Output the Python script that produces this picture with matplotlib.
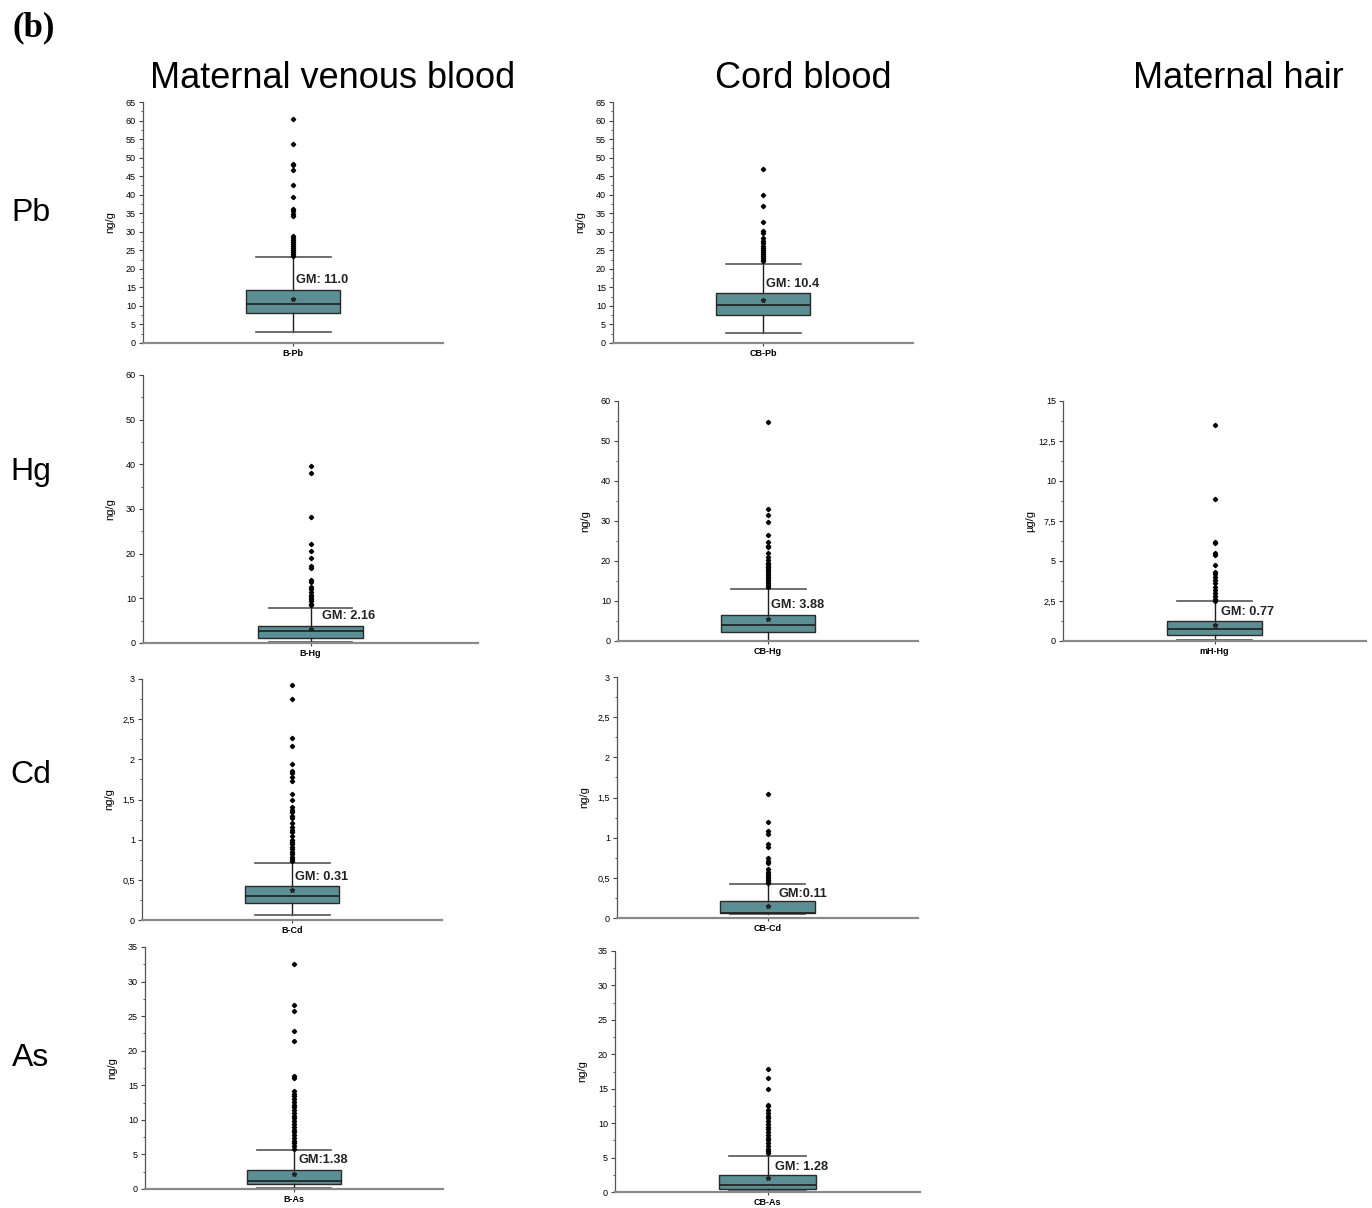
import matplotlib
matplotlib.use('Agg')
import matplotlib.pyplot as plt
from matplotlib.ticker import MultipleLocator, FuncFormatter

plt.rcParams['font.family'] = ['Liberation Sans', 'DejaVu Sans']

# panel names and box statistics
names = ['B-Pb', 'CB-Pb', 'B-Hg', 'CB-Hg', 'mH-Hg', 'B-Cd', 'CB-Cd', 'B-As', 'CB-As']
units = ['ng/g', 'ng/g', 'ng/g', 'ng/g', 'µg/g', 'ng/g', 'ng/g', 'ng/g', 'ng/g']
q1 = [8.0, 7.6, 1.2, 2.2, 0.37, 0.216, 0.058, 0.77, 0.48]
med = [10.6, 10.3, 2.6, 3.9, 0.73, 0.295, 0.060, 1.16, 1.07]
q3 = [14.2, 13.4, 3.9, 6.4, 1.23, 0.42, 0.21, 2.7, 2.5]
whislo = [3.0, 2.6, 0.2, 0.1, 0.05, 0.062, 0.05, 0.1, 0.15]
whishi = [23.3, 21.2, 7.9, 13.0, 2.48, 0.714, 0.427, 5.6, 5.3]
means = [12.0, 11.5, 3.1, 5.4, 1.0, 0.37, 0.15, 2.2, 2.1]
gm_labels = ['GM: 11.0', 'GM: 10.4', 'GM: 2.16', 'GM: 3.88', 'GM: 0.77',
             'GM: 0.31', 'GM:0.11', 'GM:1.38', 'GM: 1.28']

fliers_bpb = [60.5, 53.7, 48.4, 48.1, 46.7, 42.6, 39.3, 36.1, 35.6, 34.9, 34.3,
              28.9, 28.3, 27.8, 27.3, 26.8, 26.2, 25.5, 25.0, 24.5, 24.0, 23.5]
fliers_cbpb = [46.9, 39.9, 36.9, 32.7, 30.3, 29.8, 28.2, 27.6, 27.0, 26.2, 25.5,
               25.0, 24.5, 24.0, 23.5, 23.0, 22.5, 22.0]
fliers_bhg = [39.6, 38.1, 28.3, 22.1, 20.6, 19.0, 17.3, 16.8, 14.1, 13.6, 12.6,
              12.1, 11.4, 10.8, 10.3, 9.8, 9.3, 8.8, 8.4]
fliers_cbhg = [54.8, 32.9, 31.6, 29.8, 26.5, 24.8, 23.7, 23.4, 21.9, 21.0, 20.2,
               19.6, 19.2, 18.8, 18.4, 18.0, 17.5, 17.0, 16.5, 16.0, 15.5, 15.0,
               14.5, 14.0, 13.5]
fliers_mhhg = [13.5, 8.9, 6.2, 6.1, 5.47, 5.4, 4.74, 4.33, 4.2, 4.0, 3.8, 3.6,
               3.4, 3.2, 3.0, 2.8, 2.6, 2.52]
fliers_bcd = [2.93, 2.75, 2.27, 2.16, 1.94, 1.86, 1.83, 1.78, 1.73, 1.57, 1.50,
              1.41, 1.37, 1.34, 1.29, 1.27, 1.21, 1.16, 1.12, 1.09, 1.04, 1.00,
              0.97, 0.94, 0.91, 0.88, 0.85, 0.82, 0.79, 0.76, 0.74]
fliers_cbcd = [1.54, 1.20, 1.08, 1.05, 0.925, 0.89, 0.75, 0.71, 0.68, 0.61, 0.57,
               0.55, 0.52, 0.50, 0.47, 0.45, 0.44]
fliers_bas = [32.6, 26.6, 25.8, 22.8, 21.4, 16.4, 16.0, 14.2, 13.8, 13.4, 13.0,
              12.6, 12.2, 11.8, 11.4, 11.0, 10.6, 10.2, 9.8, 9.4, 9.0, 8.6, 8.2,
              7.8, 7.4, 7.0, 6.6, 6.2, 5.8]
fliers_cbas = [17.9, 16.5, 14.9, 12.7, 12.5, 11.9, 11.5, 11.1, 10.7, 10.3, 9.9,
               9.5, 9.1, 8.7, 8.3, 7.9, 7.5, 7.1, 6.7, 6.3, 5.9, 5.6]
fliers = [fliers_bpb, fliers_cbpb, fliers_bhg, fliers_cbhg, fliers_mhhg,
          fliers_bcd, fliers_cbcd, fliers_bas, fliers_cbas]

# axis ranges and tick steps
ytop = [65, 65, 60, 60, 15, 3, 3, 35, 35]
ystep = [5, 5, 10, 10, 2.5, 0.5, 0.5, 5, 5]

# layout: axes box in pixels (left, right, top, bottom), GM text height in data units
W, H = 1372, 1208
boxes_px = [(143, 443, 102, 343), (613, 913, 102, 343),
            (143, 478, 375, 643), (618, 918, 401, 641), (1063, 1366, 401, 641),
            (142, 442, 679, 920), (617, 918, 677, 918),
            (145, 443, 947, 1189), (615, 920, 951, 1192)]
gm_y = [17.0, 16.0, 6.0, 8.9, 1.8, 0.53, 0.30, 4.25, 3.7]
gm_dx = [0.02, 0.02, 0.07, 0.02, 0.04, 0.02, 0.07, 0.03, 0.05]

fig = plt.figure(figsize=(W / 100, H / 100), dpi=100)

comma = FuncFormatter(lambda v, p: ('%g' % v).replace('.', ','))

for i in range(len(names)):
    l, r, t, b = boxes_px[i]
    ax = fig.add_axes([l / W, 1 - b / H, (r - l) / W, (b - t) / H])
    stats = [dict(label=names[i], q1=q1[i], med=med[i], q3=q3[i],
                  whislo=whislo[i], whishi=whishi[i], mean=means[i],
                  fliers=fliers[i])]
    ax.bxp(stats, positions=[1], widths=0.63, patch_artist=True,
           showmeans=True, capwidths=0.5,
           boxprops=dict(facecolor='#5b8f94', edgecolor='#2a2a2a', linewidth=1.0),
           medianprops=dict(color='#1e1e1e', linewidth=1.2),
           whiskerprops=dict(color='#1e1e1e', linewidth=1.0),
           capprops=dict(color='#555555', linewidth=1.2),
           flierprops=dict(marker='D', markersize=2.2, markerfacecolor='black',
                           markeredgecolor='black'),
           meanprops=dict(marker='*', markersize=3.5, markerfacecolor='#222222',
                          markeredgecolor='#222222'))
    ax.set_xlim(0, 2)
    ax.set_ylim(0, ytop[i])
    ax.yaxis.set_major_locator(MultipleLocator(ystep[i]))
    ax.yaxis.set_minor_locator(MultipleLocator(ystep[i] / 2))
    ax.yaxis.set_major_formatter(comma)
    ax.tick_params(axis='y', which='major', length=3, width=0.8, labelsize=6.5,
                   pad=2, color='#444444')
    ax.tick_params(axis='y', which='minor', length=1.5, width=0.6, color='#444444')
    ax.tick_params(axis='x', length=2.5, width=0.8, pad=2, color='#444444')
    for lab in ax.get_xticklabels():
        lab.set_fontsize(6.5)
        lab.set_fontweight('bold')
    ax.spines['top'].set_visible(False)
    ax.spines['right'].set_visible(False)
    ax.spines['left'].set_color('#555555')
    ax.spines['left'].set_linewidth(0.9)
    ax.spines['bottom'].set_color('#8a8a8a')
    ax.spines['bottom'].set_linewidth(1.6)
    ax.set_ylabel(units[i], fontsize=8)
    ax.yaxis.set_label_coords(-28 / (r - l), 0.5)
    ax.text(1 + gm_dx[i], gm_y[i], gm_labels[i], fontsize=9.2, fontweight='bold',
            ha='left', va='center', color='#222222')

# column titles
fig.text(333 / W, 1 - 78 / H, 'Maternal venous blood', fontsize=26, ha='center', va='center')
fig.text(803 / W, 1 - 78 / H, 'Cord blood', fontsize=26, ha='center', va='center')
fig.text(1238 / W, 1 - 78 / H, 'Maternal hair', fontsize=26, ha='center', va='center')

# row labels
for lab, y in zip(['Pb', 'Hg', 'Cd', 'As'], [213, 472, 775, 1058]):
    fig.text(31 / W, 1 - y / H, lab, fontsize=23, ha='center', va='center')

fig.text(12 / W, 1 - 28 / H, '(b)', fontsize=25, fontweight='bold',
         family='Liberation Serif', ha='left', va='center')

fig.savefig('out.png', dpi=100)
